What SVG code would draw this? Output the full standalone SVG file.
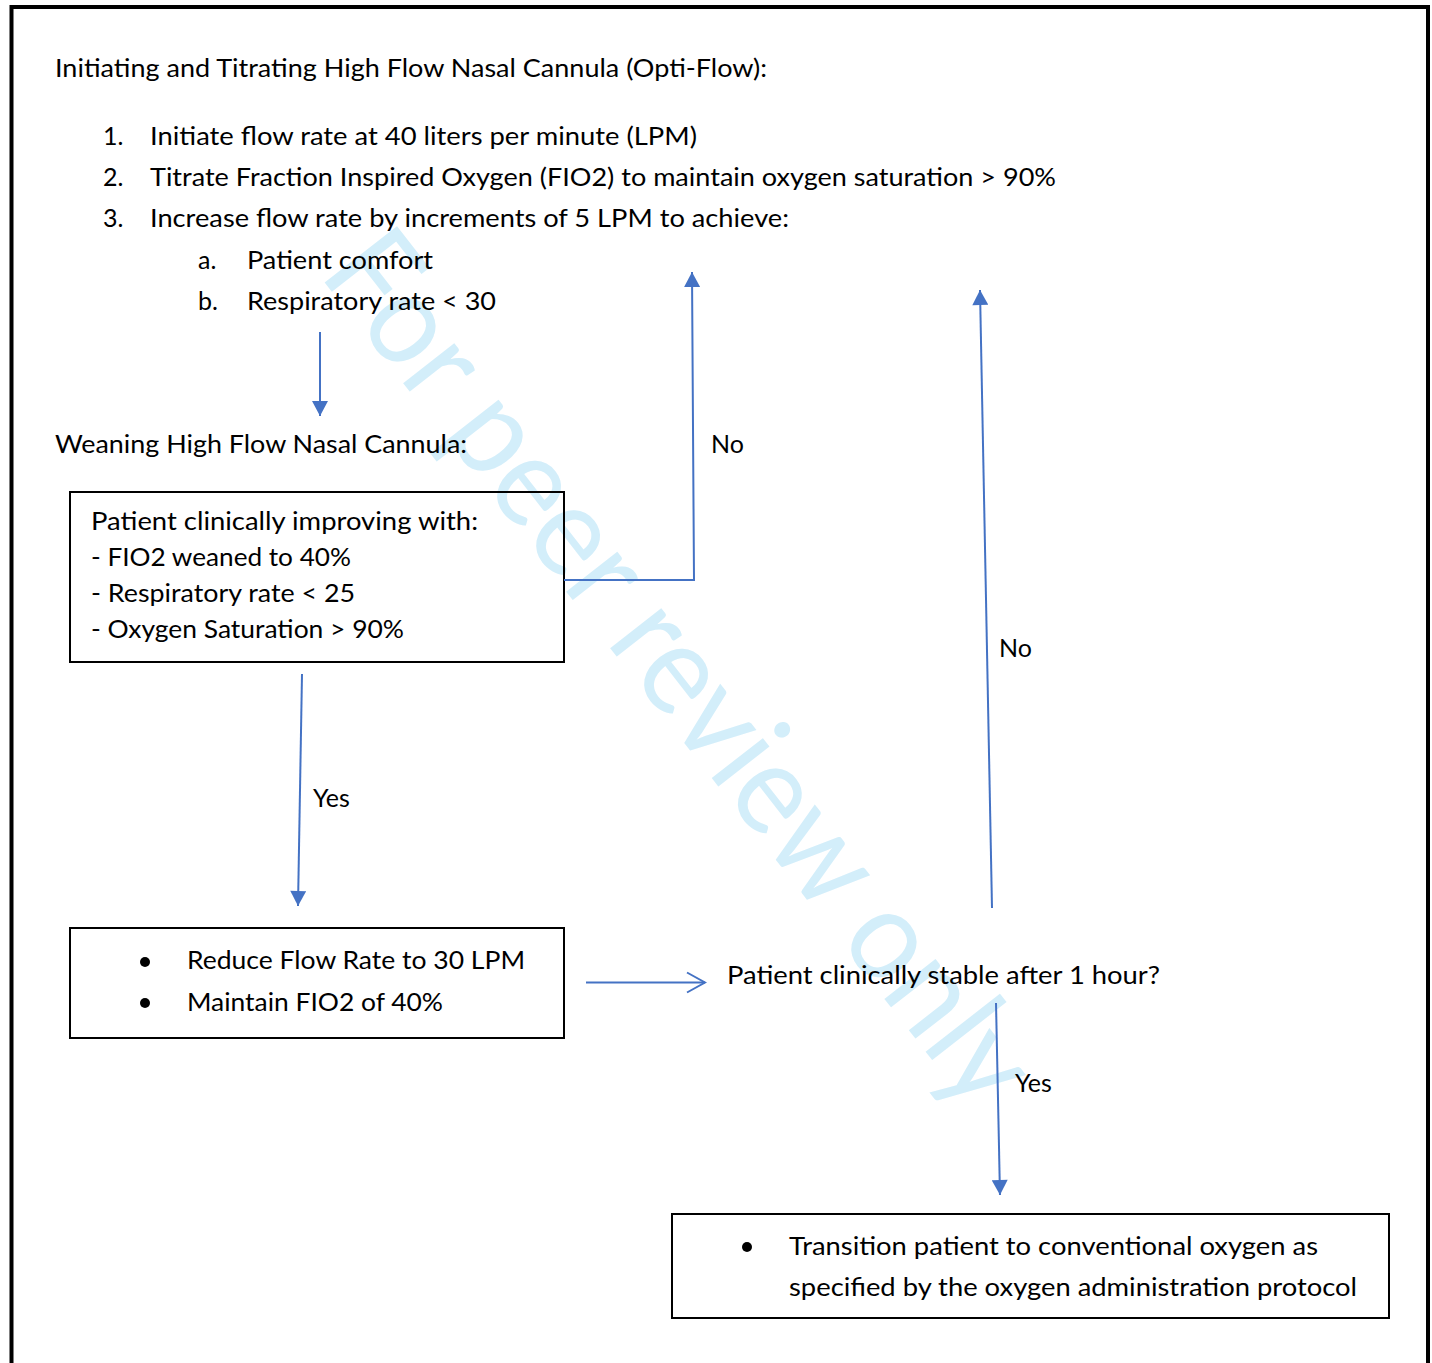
<svg xmlns="http://www.w3.org/2000/svg" width="1432" height="1363" viewBox="0 0 1432 1363">
  <style>
    .t { font-family: Lato, "Open Sans", "Liberation Sans", sans-serif; font-size: 25px; fill: #000; }
    .box { fill: none; stroke: #000; stroke-width: 2; }
    .conn { fill: none; stroke: #4472c4; stroke-width: 2; }
    .wm { font-family: Lato, "Open Sans", "Liberation Sans", sans-serif; font-size: 128px; fill: #d3eefa; }
  </style>
  <defs>
    <marker id="tri" markerUnits="userSpaceOnUse" markerWidth="16" markerHeight="16" viewBox="0 0 15 16" refX="15" refY="8" orient="auto">
      <path d="M0,0 L15,8 L0,16 z" fill="#4472c4"/>
    </marker>
    <marker id="open" markerUnits="userSpaceOnUse" markerWidth="22" markerHeight="24" viewBox="-2 -2 22 24" refX="18" refY="10" orient="auto">
      <path d="M0,0 L18,10 L0,20" fill="none" stroke="#4472c4" stroke-width="2"/>
    </marker>
  </defs>

  <rect width="1432" height="1363" fill="#fff"/>

  <!-- watermark -->
  <text class="wm" transform="translate(318,274) rotate(52)" x="0" y="0" textLength="1068" lengthAdjust="spacingAndGlyphs">For peer review only</text>

  <!-- page frame (open at the bottom) -->
  <path d="M11.5,1363 V7 H1428 V1363" fill="none" stroke="#000" stroke-width="4"/>

  <!-- initiation instructions -->
  <g id="initiation">
    <text class="t" x="55" y="77" textLength="712" lengthAdjust="spacingAndGlyphs">Initiating and Titrating High Flow Nasal Cannula (Opti-Flow):</text>
    <text class="t" x="103" y="145">1.</text>
    <text class="t" x="150" y="145" textLength="547" lengthAdjust="spacingAndGlyphs">Initiate flow rate at 40 liters per minute (LPM)</text>
    <text class="t" x="103" y="186">2.</text>
    <text class="t" x="150" y="186" textLength="906" lengthAdjust="spacingAndGlyphs">Titrate Fraction Inspired Oxygen (FIO2) to maintain oxygen saturation &gt; 90%</text>
    <text class="t" x="103" y="227">3.</text>
    <text class="t" x="150" y="227" textLength="639" lengthAdjust="spacingAndGlyphs">Increase flow rate by increments of 5 LPM to achieve:</text>
    <text class="t" x="198" y="269">a.</text>
    <text class="t" x="247" y="269" textLength="186" lengthAdjust="spacingAndGlyphs">Patient comfort</text>
    <text class="t" x="198" y="310">b.</text>
    <text class="t" x="247" y="310" textLength="249" lengthAdjust="spacingAndGlyphs">Respiratory rate &lt; 30</text>
  </g>

  <g id="weaning-title">
    <text class="t" x="55" y="453" textLength="412" lengthAdjust="spacingAndGlyphs">Weaning High Flow Nasal Cannula:</text>
  </g>

  <g id="improving">
    <rect class="box" x="70" y="492" width="494" height="170"/>
    <text class="t" x="91" y="530" textLength="387" lengthAdjust="spacingAndGlyphs">Patient clinically improving with:</text>
    <text class="t" x="91" y="566" textLength="260" lengthAdjust="spacingAndGlyphs">- FIO2 weaned to 40%</text>
    <text class="t" x="91" y="602" textLength="264" lengthAdjust="spacingAndGlyphs">- Respiratory rate &lt; 25</text>
    <text class="t" x="91" y="638" textLength="313" lengthAdjust="spacingAndGlyphs">- Oxygen Saturation &gt; 90%</text>
  </g>

  <g id="reduce">
    <rect class="box" x="70" y="928" width="494" height="110"/>
    <circle cx="145" cy="962" r="5"/>
    <circle cx="145" cy="1003" r="5"/>
    <text class="t" x="187" y="969" textLength="338" lengthAdjust="spacingAndGlyphs">Reduce Flow Rate to 30 LPM</text>
    <text class="t" x="187" y="1011" textLength="256" lengthAdjust="spacingAndGlyphs">Maintain FIO2 of 40%</text>
  </g>

  <g id="stable-question">
    <text class="t" x="727" y="984" textLength="433" lengthAdjust="spacingAndGlyphs">Patient clinically stable after 1 hour?</text>
  </g>

  <g id="transition">
    <rect class="box" x="672" y="1214" width="717" height="104"/>
    <circle cx="747" cy="1247" r="5"/>
    <text class="t" x="789" y="1255" textLength="529" lengthAdjust="spacingAndGlyphs">Transition patient to conventional oxygen as</text>
    <text class="t" x="789" y="1296" textLength="568" lengthAdjust="spacingAndGlyphs">specified by the oxygen administration protocol</text>
  </g>

  <!-- connectors -->
  <g id="connectors">
    <line class="conn" x1="320" y1="332" x2="320" y2="416" marker-end="url(#tri)"/>
    <polyline class="conn" points="564,580 694,580 692,272" marker-end="url(#tri)"/>
    <line class="conn" x1="302" y1="674" x2="298" y2="906" marker-end="url(#tri)"/>
    <line class="conn" x1="586" y1="982.5" x2="705" y2="982.5" marker-end="url(#open)"/>
    <line class="conn" x1="992" y1="908" x2="980" y2="290" marker-end="url(#tri)"/>
    <line class="conn" x1="996" y1="1003" x2="1000" y2="1195" marker-end="url(#tri)"/>
    <text class="t" x="711" y="453">No</text>
    <text class="t" x="313" y="807">Yes</text>
    <text class="t" x="999" y="657">No</text>
    <text class="t" x="1015" y="1092">Yes</text>
  </g>
</svg>
